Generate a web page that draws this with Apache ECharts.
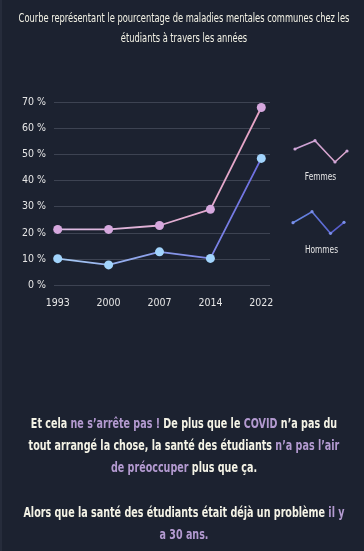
<!DOCTYPE html>
<html><head><meta charset="utf-8">
<script src="https://cdn.jsdelivr.net/npm/echarts@6/dist/echarts.min.js"></script>
<style>
html,body{margin:0;padding:0;background:#1c2230;width:364px;height:551px;overflow:hidden;}
body{position:relative;border-left:2px solid #262c3b;box-sizing:border-box;}
#chart{position:absolute;left:0;top:0;width:364px;height:551px;}
.t{position:absolute;left:0;text-align:center;color:#f4f3e6;font-family:"DejaVu Sans Condensed","Liberation Sans Narrow",sans-serif;font-stretch:condensed;transform-origin:0 0;white-space:nowrap;}
#title{top:8px;width:472.7px;font-size:12px;line-height:20px;transform:scaleX(0.77);}
.p{width:478.9px;font-size:14px;line-height:22px;font-weight:bold;transform:scaleX(0.76);}
.h{color:#b39ad0;}
</style></head>
<body>
<div id="chart"></div>
<div class="t" id="title">Courbe représentant le pourcentage de maladies mentales communes chez les<br>étudiants à travers les années</div>
<div class="t p" style="top:412px">Et cela <span class="h">ne s’arrête pas !</span> De plus que le <span class="h">COVID</span> n’a pas du<br>tout arrangé la chose, la santé des étudiants <span class="h">n’a pas l’air</span><br><span class="h">de préoccuper</span> plus que ça.</div>
<div class="t p" style="top:501px">Alors que la santé des étudiants était déjà un problème <span class="h">il y</span><br><span class="h">a 30 ans.</span></div>
<script>
const years = ['1993','2000','2007','2014','2022'];
const femmes = [21.3, 21.3, 22.8, 29.0, 68.0];
const hommes = [10.1, 7.7, 12.7, 10.2, 48.5];
const seriesNames = ['Femmes','Hommes'];
const yMax = 70, yStep = 10;

const FONT = '"DejaVu Sans Condensed","Liberation Sans Narrow",sans-serif';
const chart = echarts.init(document.getElementById('chart'), null, {renderer:'canvas'});
function grad(a,b){return new echarts.graphic.LinearGradient(0,0,1,0,[{offset:0,color:a},{offset:1,color:b}]);}

const legendIcon = (c1, c2, dot, pts) => ({
  type:'group', children:[
    {type:'polyline', shape:{points:pts}, style:{stroke:grad(c1,c2), lineWidth:1.6, fill:null}},
  ].concat(pts.map(p=>({type:'circle', shape:{cx:p[0],cy:p[1],r:1.6}, style:{fill:dot}})))
});

chart.setOption({
  backgroundColor:'transparent',
  animation:false,
  grid:[
    {left:52, right:96, top:102.3, height:182.7},
    {left:55.7, right:104.7, top:102.3, height:182.7}
  ],
  xAxis:[
    {gridIndex:0, type:'category', data:years, show:false},
    {gridIndex:1, type:'category', data:years, boundaryGap:false,
      axisLine:{show:false}, axisTick:{show:false},
      axisLabel:{color:'#e6e6e6', fontSize:10.5, fontFamily:FONT, margin:13}}
  ],
  yAxis:[
    {gridIndex:0, type:'value', min:0, max:yMax, interval:yStep,
      axisLine:{show:false}, axisTick:{show:false},
      axisLabel:{color:'#e6e6e6', fontSize:10.5, fontFamily:FONT, margin:8, formatter:'{value} %'},
      splitLine:{lineStyle:{color:'#3d4352', width:1}}},
    {gridIndex:1, type:'value', min:0, max:yMax, interval:yStep, show:false, splitLine:{show:false}}
  ],
  series:[
    {name:seriesNames[0], type:'line', xAxisIndex:1, yAxisIndex:1, data:femmes,
      symbol:'circle', symbolSize:9,
      itemStyle:{color:'#d6a8de'},
      lineStyle:{width:1.8, color:grad('#dcbce4','#e6a2c4')}},
    {name:seriesNames[1], type:'line', xAxisIndex:1, yAxisIndex:1, data:hommes,
      symbol:'circle', symbolSize:9,
      itemStyle:{color:'#a2d4fc'},
      lineStyle:{width:1.8, color:grad('#a8ccf4','#6c6ce0')}}
  ],
  graphic:[
    legendIcon('#c9a0d6','#e0a8cc','#d0a6d8',[[293,149],[313,140.7],[333,162],[345,151]]),
    legendIcon('#6a8ee6','#5454c8','#7a8ee8',[[291,222.7],[310,211.7],[328.5,233.3],[342,222.3]]),
    {type:'text', x:318.5, y:176.7, scaleX:0.75, style:{text:seriesNames[0], fill:'#e6e6e6', font:'11px '+FONT, textAlign:'center', textVerticalAlign:'middle'}},
    {type:'text', x:319.5, y:250, scaleX:0.75, style:{text:seriesNames[1], fill:'#e6e6e6', font:'11px '+FONT, textAlign:'center', textVerticalAlign:'middle'}}
  ]
});
</script>
</body></html>
